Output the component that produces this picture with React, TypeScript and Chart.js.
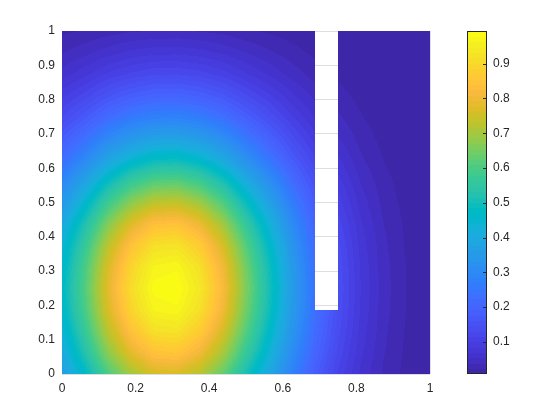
import React, { useEffect, useRef } from "react";
import { Chart, registerables } from "chart.js";

Chart.register(...registerables);

// ---- data ----
const xNodes = [0, 0.0625, 0.125, 0.1875, 0.25, 0.3125, 0.375, 0.4375, 0.5, 0.5625, 0.625, 0.6875, 0.75, 0.8125, 0.875, 0.9375, 1];
const yNodes = [0, 0.0625, 0.125, 0.1875, 0.25, 0.3125, 0.375, 0.4375, 0.5, 0.5625, 0.625, 0.6875, 0.75, 0.8125, 0.875, 0.9375, 1];

// zRows[j][i] = value at (xNodes[i], yNodes[j]); j = 0 is the bottom row (y = 0)
const zRows = [
  [0.358, 0.470, 0.601, 0.700, 0.759, 0.766, 0.721, 0.631, 0.508, 0.392, 0.278, 0.183, 0.112, 0.065, 0.035, 0.017, 0.008],
  [0.400, 0.525, 0.672, 0.782, 0.848, 0.856, 0.805, 0.705, 0.568, 0.438, 0.310, 0.205, 0.126, 0.072, 0.039, 0.019, 0.009],
  [0.432, 0.567, 0.726, 0.845, 0.917, 0.925, 0.870, 0.763, 0.614, 0.473, 0.336, 0.221, 0.136, 0.078, 0.042, 0.020, 0.009],
  [0.456, 0.598, 0.765, 0.891, 0.966, 0.975, 0.917, 0.804, 0.647, 0.499, 0.354, 0.233, 0.143, 0.082, 0.044, 0.022, 0.010],
  [0.465, 0.610, 0.781, 0.909, 0.986, 0.994, 0.936, 0.820, 0.660, 0.509, 0.361, 0.238, 0.146, 0.084, 0.045, 0.022, 0.010],
  [0.456, 0.598, 0.765, 0.891, 0.966, 0.975, 0.917, 0.804, 0.647, 0.499, 0.354, 0.233, 0.143, 0.082, 0.044, 0.022, 0.010],
  [0.432, 0.567, 0.726, 0.845, 0.917, 0.925, 0.870, 0.763, 0.614, 0.473, 0.336, 0.221, 0.136, 0.078, 0.042, 0.020, 0.009],
  [0.395, 0.519, 0.664, 0.773, 0.838, 0.846, 0.796, 0.697, 0.561, 0.433, 0.307, 0.202, 0.124, 0.071, 0.038, 0.019, 0.009],
  [0.344, 0.451, 0.578, 0.673, 0.730, 0.736, 0.693, 0.607, 0.488, 0.377, 0.267, 0.176, 0.108, 0.062, 0.033, 0.016, 0.007],
  [0.288, 0.378, 0.484, 0.564, 0.611, 0.617, 0.580, 0.508, 0.409, 0.316, 0.224, 0.148, 0.091, 0.052, 0.028, 0.014, 0.006],
  [0.228, 0.299, 0.383, 0.445, 0.483, 0.488, 0.459, 0.402, 0.323, 0.249, 0.177, 0.117, 0.072, 0.041, 0.022, 0.011, 0.005],
  [0.177, 0.232, 0.297, 0.345, 0.375, 0.378, 0.356, 0.312, 0.251, 0.193, 0.137, 0.090, 0.055, 0.032, 0.017, 0.008, 0.004],
  [0.130, 0.171, 0.219, 0.255, 0.276, 0.279, 0.262, 0.230, 0.185, 0.143, 0.101, 0.067, 0.041, 0.024, 0.013, 0.006, 0.003],
  [0.093, 0.122, 0.156, 0.182, 0.197, 0.199, 0.187, 0.164, 0.132, 0.102, 0.072, 0.048, 0.029, 0.017, 0.009, 0.004, 0.002],
  [0.060, 0.079, 0.102, 0.118, 0.128, 0.129, 0.122, 0.107, 0.086, 0.066, 0.047, 0.031, 0.019, 0.011, 0.006, 0.003, 0.001],
  [0.037, 0.049, 0.062, 0.073, 0.079, 0.080, 0.075, 0.066, 0.053, 0.041, 0.029, 0.019, 0.012, 0.007, 0.004, 0.002, 0.001],
  [0.019, 0.024, 0.031, 0.036, 0.039, 0.040, 0.037, 0.033, 0.026, 0.020, 0.014, 0.010, 0.006, 0.003, 0.002, 0.001, 0.000],
];

// the empty slot (no data) in the domain
const slotX = [0.6875, 0.75];
const slotY = [0.1875, 1];

const xTicks = [0, 0.2, 0.4, 0.6, 0.8, 1];
const yTicks = [0, 0.1, 0.2, 0.3, 0.4, 0.5, 0.6, 0.7, 0.8, 0.9, 1];
const cbarTicks = [0.1, 0.2, 0.3, 0.4, 0.5, 0.6, 0.7, 0.8, 0.9];
const cLimits = [0.0074, 0.994];

// MATLAB parula(64)
const parula: number[][] = [
  [0.2422, 0.1504, 0.6603], [0.2503, 0.1648, 0.7071], [0.2578, 0.1818, 0.7511], [0.2647, 0.1978, 0.7952],
  [0.2706, 0.2147, 0.8364], [0.2751, 0.2342, 0.871], [0.2783, 0.2559, 0.8991], [0.2803, 0.2782, 0.9221],
  [0.2813, 0.3006, 0.9414], [0.281, 0.3228, 0.9579], [0.2795, 0.3447, 0.9717], [0.276, 0.3667, 0.9829],
  [0.2699, 0.3892, 0.9906], [0.2602, 0.4123, 0.9952], [0.244, 0.4358, 0.9988], [0.2206, 0.4603, 0.9973],
  [0.1963, 0.4847, 0.9892], [0.1834, 0.5074, 0.9798], [0.1786, 0.5289, 0.9682], [0.1764, 0.5499, 0.952],
  [0.1687, 0.5703, 0.9359], [0.154, 0.5902, 0.9218], [0.146, 0.6091, 0.9079], [0.138, 0.6276, 0.8973],
  [0.1248, 0.6459, 0.8883], [0.1113, 0.6635, 0.8763], [0.0952, 0.6798, 0.8598], [0.0689, 0.6948, 0.8394],
  [0.0297, 0.7082, 0.8163], [0.0036, 0.7203, 0.7917], [0.0067, 0.7312, 0.766], [0.0433, 0.7411, 0.7394],
  [0.0964, 0.75, 0.712], [0.1408, 0.7584, 0.6842], [0.1717, 0.767, 0.6554], [0.1938, 0.7758, 0.6251],
  [0.2161, 0.7843, 0.5923], [0.247, 0.7918, 0.5567], [0.2906, 0.7973, 0.5188], [0.3406, 0.8008, 0.4789],
  [0.3909, 0.8029, 0.4354], [0.4456, 0.8024, 0.3909], [0.5044, 0.7993, 0.348], [0.5616, 0.7942, 0.3045],
  [0.6174, 0.7876, 0.2612], [0.672, 0.7793, 0.2227], [0.7242, 0.7698, 0.191], [0.7738, 0.7598, 0.1646],
  [0.8203, 0.7498, 0.1535], [0.8634, 0.7406, 0.1596], [0.9035, 0.733, 0.1774], [0.9393, 0.7288, 0.21],
  [0.9728, 0.7298, 0.2394], [0.9956, 0.7434, 0.2371], [0.997, 0.7659, 0.2199], [0.9952, 0.7893, 0.2028],
  [0.9892, 0.8136, 0.1885], [0.9786, 0.8386, 0.1766], [0.9676, 0.8639, 0.1643], [0.961, 0.889, 0.1537],
  [0.9597, 0.9135, 0.1423], [0.9628, 0.9373, 0.1265], [0.9691, 0.9606, 0.1064], [0.9769, 0.9839, 0.0805],
];

const TEXT = "#262626";
const GRID = "#DEDEDE";

function findCell(nodes: number[], v: number): number {
  let i = 0;
  while (i < nodes.length - 2 && v > nodes[i + 1]) i++;
  return i;
}

function sample(xv: number, yv: number): number {
  const i = findCell(xNodes, xv);
  const j = findCell(yNodes, yv);
  const tx = Math.min(1, Math.max(0, (xv - xNodes[i]) / (xNodes[i + 1] - xNodes[i])));
  const ty = Math.min(1, Math.max(0, (yv - yNodes[j]) / (yNodes[j + 1] - yNodes[j])));
  const a = zRows[j][i], b = zRows[j][i + 1], c = zRows[j + 1][i], d = zRows[j + 1][i + 1];
  return (a * (1 - tx) + b * tx) * (1 - ty) + (c * (1 - tx) + d * tx) * ty;
}

function colorIndex(v: number): number {
  const n = parula.length;
  const k = Math.floor(((v - cLimits[0]) / (cLimits[1] - cLimits[0])) * n);
  return Math.min(n - 1, Math.max(0, k));
}

function rgb(c: number[]): string {
  return `rgb(${Math.round(c[0] * 255)},${Math.round(c[1] * 255)},${Math.round(c[2] * 255)})`;
}

const heatmapPlugin = {
  id: "heatmap",
  beforeDatasetsDraw(chart: any) {
    const { ctx, chartArea: a, scales } = chart;
    const xs = scales.x, ys = scales.y;
    const w = Math.round(a.right - a.left);
    const h = Math.round(a.bottom - a.top);
    const off = document.createElement("canvas");
    off.width = w;
    off.height = h;
    const octx = off.getContext("2d")!;
    const img = octx.createImageData(w, h);
    for (let py = 0; py < h; py++) {
      const yv = ys.getValueForPixel(a.top + py + 0.5);
      for (let px = 0; px < w; px++) {
        const xv = xs.getValueForPixel(a.left + px + 0.5);
        const p = (py * w + px) * 4;
        if (xv > slotX[0] && xv < slotX[1] && yv > slotY[0] && yv <= slotY[1]) {
          img.data[p + 3] = 0;
          continue;
        }
        const c = parula[colorIndex(sample(xv, yv))];
        img.data[p] = Math.round(c[0] * 255);
        img.data[p + 1] = Math.round(c[1] * 255);
        img.data[p + 2] = Math.round(c[2] * 255);
        img.data[p + 3] = 255;
      }
    }
    octx.putImageData(img, 0, 0);
    ctx.drawImage(off, a.left, a.top);
  },
};

const colorbarPlugin = {
  id: "colorbar",
  afterDraw(chart: any) {
    const { ctx } = chart;
    const cb = chart.scales.cbar;
    const x0 = cb.left + 37;
    const bw = 20;
    const n = parula.length;
    const step = (cLimits[1] - cLimits[0]) / n;
    for (let k = 0; k < n; k++) {
      const y0 = cb.getPixelForValue(cLimits[0] + k * step);
      const y1 = cb.getPixelForValue(cLimits[0] + (k + 1) * step);
      ctx.fillStyle = rgb(parula[k]);
      ctx.fillRect(x0, Math.floor(y1), bw, Math.ceil(y0) - Math.floor(y1));
    }
    const top = cb.getPixelForValue(cLimits[1]);
    const bottom = cb.getPixelForValue(cLimits[0]);
    ctx.save();
    ctx.strokeStyle = TEXT;
    ctx.lineWidth = 1;
    ctx.strokeRect(x0 + 0.5, Math.round(top) + 0.5, bw - 1, Math.round(bottom) - Math.round(top) - 1);
    ctx.beginPath();
    for (const t of cbarTicks) {
      const y = Math.round(cb.getPixelForValue(t)) + 0.5;
      ctx.moveTo(x0 + bw - 4, y);
      ctx.lineTo(x0 + bw - 1, y);
    }
    ctx.stroke();
    ctx.restore();
  },
};

const fmt = (v: number | string) => String(Number(v));

function noPad(s: any) {
  s.paddingTop = 0;
  s.paddingBottom = 0;
  s.paddingLeft = 0;
  s.paddingRight = 0;
}

export default function App() {
  const ref = useRef<HTMLCanvasElement | null>(null);
  useEffect(() => {
    if (!ref.current) return;
    const font = { family: "'Liberation Sans', Arial, Helvetica, sans-serif", size: 12 };
    const chart = new Chart(ref.current, {
      type: "scatter",
      data: { datasets: [] },
      options: {
        animation: false,
        responsive: false,
        events: [],
        layout: { padding: { top: 31, left: 0, right: 0, bottom: 0 } },
        plugins: { legend: { display: false }, tooltip: { enabled: false } },
        scales: {
          x: {
            type: "linear",
            position: "bottom",
            min: 0,
            max: 1,
            afterBuildTicks: (s: any) => { s.ticks = xTicks.map((v) => ({ value: v })); },
            afterFit: (s: any) => { s.height = 46; noPad(s); },
            ticks: { font, color: TEXT, padding: 7, maxRotation: 0, callback: fmt },
            grid: { color: GRID, drawTicks: false },
            border: { display: false },
          },
          y: {
            type: "linear",
            position: "left",
            min: 0,
            max: 1,
            afterBuildTicks: (s: any) => { s.ticks = yTicks.map((v) => ({ value: v })); },
            afterFit: (s: any) => { s.width = 62; noPad(s); },
            ticks: { font, color: TEXT, padding: 7, callback: fmt },
            grid: { color: GRID, drawTicks: false },
            border: { display: false },
          },
          cbar: {
            type: "linear",
            position: "right",
            axis: "y",
            min: cLimits[0],
            max: cLimits[1],
            afterBuildTicks: (s: any) => { s.ticks = cbarTicks.map((v) => ({ value: v })); },
            afterFit: (s: any) => { s.width = 130; noPad(s); },
            ticks: { font, color: TEXT, padding: 63, callback: fmt },
            grid: { display: false, drawTicks: false },
            border: { display: false },
          },
        },
      } as any,
      plugins: [heatmapPlugin, colorbarPlugin],
    });
    return () => chart.destroy();
  }, []);
  return (
    <div style={{ position: "fixed", left: 0, top: 0, width: 560, height: 420, background: "#fff" }}>
      <canvas ref={ref} width={560} height={420} style={{ display: "block" }} />
    </div>
  );
}
